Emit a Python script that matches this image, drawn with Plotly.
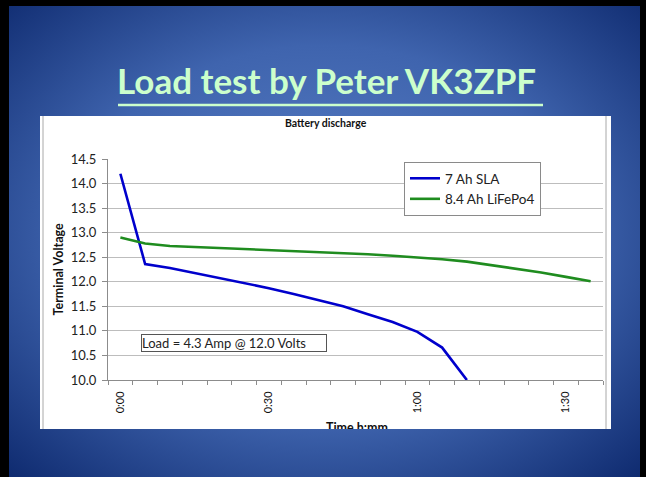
import base64
import plotly.graph_objects as go

# ---------------- data ----------------
time_labels = ["0:00", "0:05", "0:10", "0:15", "0:20", "0:25", "0:30", "0:35",
               "0:40", "0:45", "0:50", "0:55", "1:00", "1:05", "1:10", "1:15",
               "1:20", "1:25", "1:30", "1:35"]
sla_7ah = [14.20, 12.36, 12.28, 12.18, 12.08, 11.98, 11.87, 11.75, 11.63,
           11.50, 11.34, 11.18, 10.98, 10.66, 10.00]
lifepo4_84ah = [12.90, 12.78, 12.73, 12.71, 12.68, 12.66, 12.64, 12.63, 12.61,
                12.59, 12.56, 12.53, 12.50, 12.46, 12.41, 12.34, 12.27, 12.19,
                12.10, 12.01]
shown_ticks = ["0:00", "0:30", "1:00", "1:30"]


def to_min(s):
    h, m = s.split(":")
    return int(h) * 60 + int(m)


minutes = [to_min(t) for t in time_labels]

# ---------------- layout geometry (pixels) ----------------
W, H = 646, 477
L, R, T, B = 108, 43, 159, 48
PW, PH = W - L - R, H - T - B


def px_x(p):
    return (p - L) / PW


def px_y(p):
    return (H - B - p) / PH


FONT = "Lato"

fig = go.Figure()
fig.add_trace(go.Scatter(x=minutes[:len(sla_7ah)], y=sla_7ah, mode="lines",
                         name="7 Ah SLA", line=dict(color="#0000cc", width=2.6)))
fig.add_trace(go.Scatter(x=minutes[:len(lifepo4_84ah)], y=lifepo4_84ah, mode="lines",
                         name="8.4 Ah LiFePo4", line=dict(color="#1f8c1f", width=2.6)))

# x axis title, cut off by the bottom of the chart box as in the slide
fig.add_trace(go.Scatter(x=[0.503], y=[0.0], xaxis="x2", yaxis="y2", mode="text",
                         text=["<b>Time h:mm</b>"], textposition="middle center",
                         textfont=dict(family=FONT, size=12.5, color="#111"),
                         cliponaxis=True, showlegend=False, hoverinfo="skip"))

svg = ("<svg xmlns='http://www.w3.org/2000/svg' width='631' height='471' "
       "preserveAspectRatio='none'><defs><radialGradient id='g' cx='50%' cy='48%' r='72%'>"
       "<stop offset='0' stop-color='#5a80c6'/><stop offset='0.55' stop-color='#3f64ae'/>"
       "<stop offset='1' stop-color='#0f2b70'/></radialGradient></defs>"
       "<rect width='100%' height='100%' fill='url(#g)'/></svg>")
src = "data:image/svg+xml;base64," + base64.b64encode(svg.encode()).decode()

fig.update_layout(
    width=W, height=H,
    margin=dict(l=L, r=R, t=T, b=B, pad=0),
    paper_bgcolor="#000000",
    plot_bgcolor="rgba(0,0,0,0)",
    showlegend=True,
    hovermode=False,
    images=[dict(source=src, xref="paper", yref="paper", x=px_x(9), y=px_y(6),
                 sizex=(640 - 9) / PW, sizey=(477 - 6) / PH, sizing="stretch",
                 xanchor="left", yanchor="top", layer="below")],
    shapes=[
        dict(type="rect", xref="paper", yref="paper", x0=px_x(40), x1=px_x(611),
             y0=px_y(429), y1=px_y(116), fillcolor="white", line=dict(width=0),
             layer="below"),
        dict(type="line", xref="paper", yref="paper", x0=px_x(43), x1=px_x(43),
             y0=px_y(429), y1=px_y(116), line=dict(color="#a8a8a8", width=1),
             layer="below"),
        dict(type="line", xref="paper", yref="paper", x0=px_x(606), x1=px_x(606),
             y0=px_y(429), y1=px_y(116), line=dict(color="#a8a8a8", width=1),
             layer="below"),
        dict(type="line", xref="paper", yref="paper", x0=px_x(118), x1=px_x(543),
             y0=px_y(105), y1=px_y(105), line=dict(color="#ccffcc", width=2.5),
             layer="above"),
    ],
    annotations=[
        dict(text="<b>Load test by Peter VK3ZPF</b>", xref="paper", yref="paper",
             x=px_x(326), y=px_y(80), xanchor="center", yanchor="middle",
             showarrow=False, font=dict(family=FONT, size=35, color="#ccffcc")),
        dict(text="<b>Battery discharge</b>", xref="paper", yref="paper",
             x=px_x(326), y=px_y(123), xanchor="center", yanchor="middle",
             showarrow=False, font=dict(family=FONT, size=10.5, color="#111")),
        dict(text="<b>Terminal Voltage</b>", xref="paper", yref="paper",
             x=px_x(58), y=px_y(269.5), xanchor="center", yanchor="middle",
             textangle=-90, showarrow=False,
             font=dict(family=FONT, size=12.5, color="#111")),
        dict(text="Load = 4.3 Amp @ 12.0 Volts", xref="paper", yref="paper",
             x=px_x(141), y=px_y(343), xanchor="left", yanchor="middle",
             showarrow=False, align="left", width=184,
             bordercolor="#555555", borderwidth=1, borderpad=0, bgcolor="white",
             font=dict(family=FONT, size=13, color="#222")),
    ],
    legend=dict(x=px_x(404), y=px_y(162), xanchor="left", yanchor="top",
                bgcolor="white", bordercolor="#8a8a8a", borderwidth=1,
                font=dict(family=FONT, size=13.5, color="#222"),
                itemwidth=30, tracegroupgap=0),
    xaxis=dict(
        domain=[0, 1], range=[-2.5, 97.5], anchor="y",
        tickmode="array", tickvals=[to_min(t) for t in shown_ticks], ticktext=shown_ticks,
        tickangle=-90, ticks="", showgrid=False, zeroline=False,
        showline=True, linecolor="#8c8c8c", linewidth=1,
        ticklabelstandoff=6,
        tickfont=dict(family=FONT, size=11, color="#111"),
        minor=dict(tickmode="linear", tick0=-2.5, dtick=5, ticks="outside",
                   ticklen=4, tickcolor="#8c8c8c", showgrid=False),
    ),
    yaxis=dict(
        domain=[px_y(380), 1], range=[10, 14.5], anchor="x",
        dtick=0.5, tick0=10, tickformat=".1f",
        showgrid=True, gridcolor="#bdbdbd", gridwidth=1, zeroline=False,
        showline=True, linecolor="#8c8c8c", linewidth=1,
        ticks="outside", ticklen=5, tickcolor="#8c8c8c",
        ticklabelstandoff=3,
        tickfont=dict(family=FONT, size=13, color="#222"),
    ),
    xaxis2=dict(domain=[0, 1], range=[0, 1], anchor="y2", visible=False, fixedrange=True),
    yaxis2=dict(domain=[0, px_y(413)], range=[0, 1], anchor="x2", visible=False,
                fixedrange=True),
)

fig.write_html(
    "out.html",
    config={"displayModeBar": False, "staticPlot": True},
    post_script="document.body.style.margin='0';"
                "document.documentElement.style.background='#000';"
                "document.body.style.background='#000';",
)
